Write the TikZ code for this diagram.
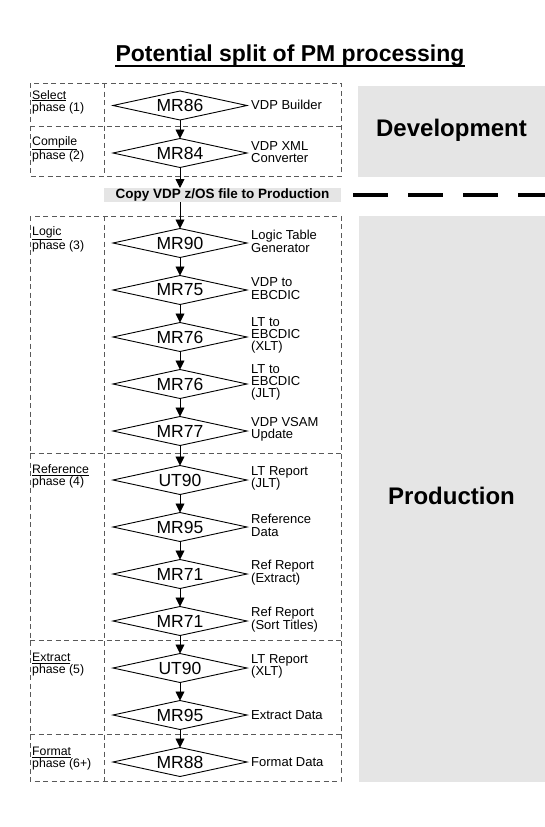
\documentclass[tikz,border=0pt]{standalone}
\usepackage{fontspec}
\setmainfont{Liberation Sans}
\usetikzlibrary{shapes.geometric,arrows.meta}
\begin{document}
\begin{tikzpicture}[x=1pt,y=-1pt,
  proc/.style={diamond, draw, line width=0.9pt, inner sep=0pt, outer sep=0pt, aspect=4.62,
    minimum width=134pt, minimum height=29pt, font={\fontsize{17.5}{18}\selectfont}},
  lbl/.style={anchor=west, align=left, inner sep=0pt, font={\fontsize{13}{12.3}\selectfont}},
  phase/.style={anchor=west, align=left, inner sep=0pt, font={\fontsize{12.3}{10.8}\selectfont}},
  frame/.style={draw=black!65, line width=0.8pt, dash pattern=on 5pt off 3.5pt},
  flow/.style={line width=0.9pt, -{Triangle[length=9pt,width=9pt]}},
  panel/.style={fill=black!10, inner sep=0pt, outer sep=0pt},
  bigtxt/.style={anchor=base, inner sep=0pt, font={\bfseries\fontsize{24}{24}\selectfont}}
]
\useasboundingbox (0,0) rectangle (545,827);

% title
\node[anchor=base, inner sep=0pt, font={\bfseries\fontsize{23}{23}\selectfont}] (title) at (290,61) {Potential split of PM processing};
\draw[line width=2pt] ([yshift=-5pt]title.base west) -- ([yshift=-5pt]title.base east);

% panels
\node[panel, minimum width=187pt, minimum height=91pt] (devbox) at (451.5,131.5) {};
\node[bigtxt] (devtxt) at (451.5,136) {Development};
\node[panel, minimum width=186pt, minimum height=566pt] (prodbox) at (452,499) {};
\node[bigtxt] (prodtxt) at (451.5,504) {Production};
\node[panel, minimum width=237pt, minimum height=14pt, font={\bfseries\fontsize{13.5}{14}\selectfont}] (copy) at (222.5,195) {Copy VDP z/OS file to Production};

% thick dashed separator
\coordinate (dl0) at (353,195);
\coordinate (dl1) at (545,195);
\draw[line width=4pt, dash pattern=on 35pt off 20pt] (dl0) -- (dl1);

% frames
\draw[frame] (30,83) rectangle (341,176);
\draw[frame] (30,126) -- (341,126);
\draw[frame] (104,83) -- (104,176);
\draw[frame] (30,216) rectangle (341,781);
\draw[frame] (30,453) -- (341,453);
\draw[frame] (30,640) -- (341,640);
\draw[frame] (30,734) -- (341,734);
\draw[frame] (104,216) -- (104,781);

% phase labels
\node[phase] (p1) at (32,102) {\underline{Select}\\phase (1)};
\node[phase] (p2) at (32,149.5) {\underline{Compile}\\phase (2)};
\node[phase] (p3) at (32,239.5) {\underline{Logic}\\phase (3)};
\node[phase] (p4) at (32,476.5) {\underline{Reference}\\phase (4)};
\node[phase] (p5) at (32,665) {\underline{Extract}\\phase (5)};
\node[phase] (p6) at (32,759) {\underline{Format}\\phase (6+)};

% process diamonds
\node[proc] (d1) at (180,105.5) {MR86};
\node[proc] (d2) at (180,153) {MR84};
\node[proc] (d3) at (180,243) {MR90};
\node[proc] (d4) at (180,290) {MR75};
\node[proc] (d5) at (180,337) {MR76};
\node[proc] (d6) at (180,384) {MR76};
\node[proc] (d7) at (180,431) {MR77};
\node[proc] (d8) at (180,480) {UT90};
\node[proc] (d9) at (180,527) {MR95};
\node[proc] (d10) at (180,574) {MR71};
\node[proc] (d11) at (180,621) {MR71};
\node[proc] (d12) at (180,668) {UT90};
\node[proc] (d13) at (180,715) {MR95};
\node[proc] (d14) at (180,762) {MR88};

% descriptions
\node[lbl] (l1) at ([xshift=4pt,yshift=1pt]d1.east) {VDP Builder};
\node[lbl] (l2) at ([xshift=4pt,yshift=1pt]d2.east) {VDP XML\\Converter};
\node[lbl] (l3) at ([xshift=4pt,yshift=1.5pt]d3.east) {Logic Table\\Generator};
\node[lbl] (l4) at ([xshift=4pt,yshift=1.5pt]d4.east) {VDP to\\EBCDIC};
\node[lbl] (l5) at ([xshift=4pt,yshift=1.5pt]d5.east) {LT to\\EBCDIC\\(XLT)};
\node[lbl] (l6) at ([xshift=4pt,yshift=1.5pt]d6.east) {LT to\\EBCDIC\\(JLT)};
\node[lbl] (l7) at ([xshift=4pt,yshift=1.5pt]d7.east) {VDP VSAM\\Update};
\node[lbl] (l8) at ([xshift=4pt,yshift=1.5pt]d8.east) {LT Report\\(JLT)};
\node[lbl] (l9) at ([xshift=4pt,yshift=1.5pt]d9.east) {Reference\\Data};
\node[lbl] (l10) at ([xshift=4pt,yshift=1.5pt]d10.east) {Ref Report\\(Extract)};
\node[lbl] (l11) at ([xshift=4pt,yshift=1.5pt]d11.east) {Ref Report\\(Sort Titles)};
\node[lbl] (l12) at ([xshift=4pt,yshift=1.5pt]d12.east) {LT Report\\(XLT)};
\node[lbl] (l13) at ([xshift=4pt,yshift=0pt]d13.east) {Extract Data};
\node[lbl] (l14) at ([xshift=4pt,yshift=0pt]d14.east) {Format Data};

% flow arrows
\draw[flow] (d1.south) -- (d2.north);
\draw[flow] (d2.south) -- (d2.south |- copy.north);
\draw[flow] (copy.south -| d3.north) -- (d3.north);
\draw[flow] (d3.south) -- (d4.north);
\draw[flow] (d4.south) -- (d5.north);
\draw[flow] (d5.south) -- (d6.north);
\draw[flow] (d6.south) -- (d7.north);
\draw[flow] (d7.south) -- (d8.north);
\draw[flow] (d8.south) -- (d9.north);
\draw[flow] (d9.south) -- (d10.north);
\draw[flow] (d10.south) -- (d11.north);
\draw[flow] (d11.south) -- (d12.north);
\draw[flow] (d12.south) -- (d13.north);
\draw[flow] (d13.south) -- (d14.north);
\end{tikzpicture}
\end{document}
